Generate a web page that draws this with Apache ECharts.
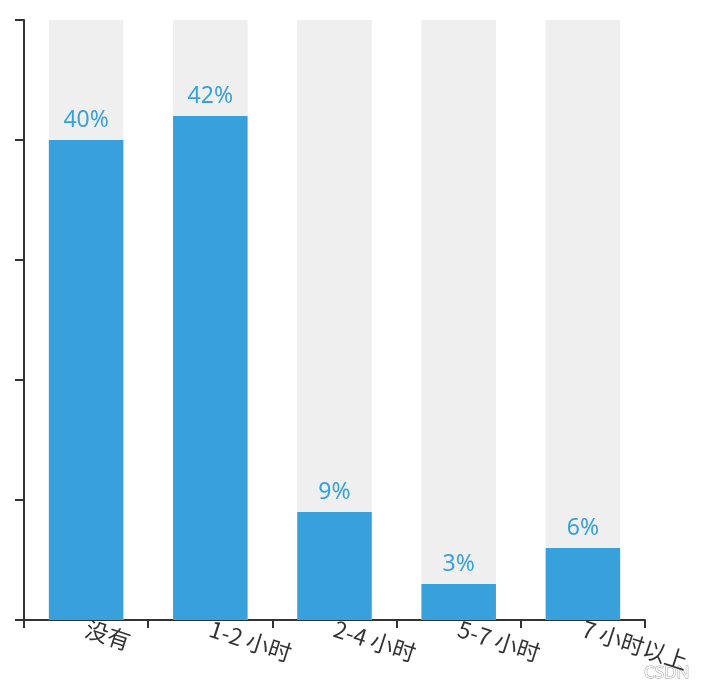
<!DOCTYPE html>
<html>
<head>
<meta charset="utf-8">
<script src="https://cdn.jsdelivr.net/npm/echarts@6/dist/echarts.min.js"></script>
<style>
  html, body { margin: 0; padding: 0; background: #fff; }
  #main { width: 706px; height: 700px; }
</style>
</head>
<body>
<div id="main"></div>
<script>
// 使用时长分布
const categories = ['没有', '1-2 小时', '2-4 小时', '5-7 小时', '7 小时以上']
const percents = [40, 42, 9, 3, 6]
const yTicks = { min: 0, max: 50, interval: 10 }

const BAR_COLOR = '#38a1db'
const AXIS_COLOR = '#333'

const myChart = echarts.init(document.getElementById('main'))
var option = {
  animation: false,
  grid: {
    top: 20,
    left: 24,
    right: 61,
    bottom: 80,
    containLabel: false,
  },
  xAxis: {
    type: 'category',
    data: categories,
    axisLine: { lineStyle: { color: AXIS_COLOR, width: 2 } },
    axisTick: { show: true, length: 8, lineStyle: { color: AXIS_COLOR, width: 2 } },
    axisLabel: {
      rotate: -18,
      color: '#333',
      fontSize: 23,
      margin: 8,
      fontFamily: 'Noto Sans CJK SC',
    },
  },
  yAxis: {
    type: 'value',
    min: yTicks.min,
    max: yTicks.max,
    interval: yTicks.interval,
    axisLine: { show: true, lineStyle: { color: AXIS_COLOR, width: 2 } },
    axisTick: { show: true, length: 9, lineStyle: { color: AXIS_COLOR, width: 2 } },
    axisLabel: { show: false },
    splitLine: { show: false },
  },
  series: [
    {
      type: 'bar',
      data: percents,
      barWidth: '60%',
      itemStyle: { color: BAR_COLOR },
      showBackground: true,
      backgroundStyle: { color: '#efefef' },
      label: {
        show: true,
        position: 'top',
        distance: 8,
        formatter: '{c}%',
        color: BAR_COLOR,
        fontSize: 23,
        fontFamily: 'Noto Sans',
      },
    },
  ],
  graphic: [
    {
      type: 'text',
      right: 16,
      bottom: 18,
      style: {
        text: 'CSDN',
        fill: '#fff',
        stroke: '#999',
        lineWidth: 1,
        fontSize: 17,
        fontFamily: 'Noto Sans',
      },
    },
  ],
}
option && myChart.setOption(option)
</script>
</body>
</html>
